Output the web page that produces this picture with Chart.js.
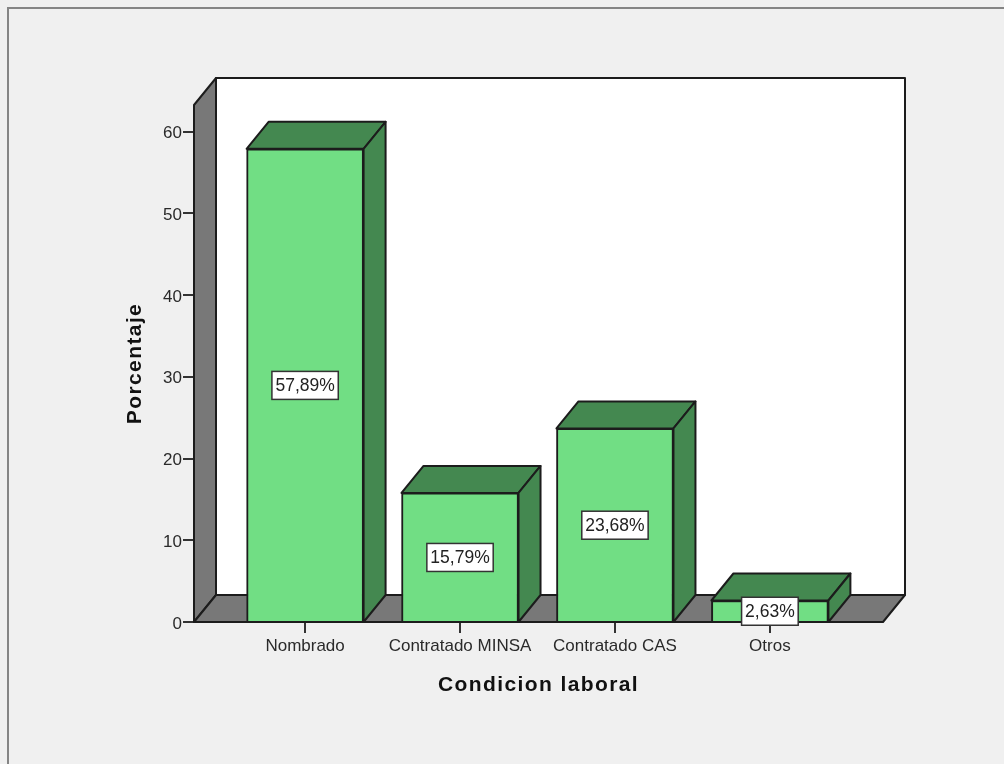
<!DOCTYPE html>
<html>
<head>
<meta charset="utf-8">
<style>
  html, body { margin: 0; padding: 0; background: #f0f0f0; }
  #wrap { width: 1004px; height: 764px; }
</style>
<script src="https://cdn.jsdelivr.net/npm/chart.js@4"></script>
</head>
<body>
<div id="wrap"><canvas id="myChart" width="1004" height="764"></canvas></div>
<script>
const categories = ['Nombrado', 'Contratado MINSA', 'Contratado CAS', 'Otros'];
const porcentajes = [57.89, 15.79, 23.68, 2.63];
const yTicks = [0, 10, 20, 30, 40, 50, 60];

const GREEN = '#71de84';
const DARK_GREEN = '#448850';
const WALL = '#787878';
const LINE = '#1c1c1c';
const DX = 22, DY = 27;

function poly(ctx, pts, fill) {
  ctx.beginPath();
  ctx.moveTo(pts[0][0], pts[0][1]);
  for (let i = 1; i < pts.length; i++) ctx.lineTo(pts[i][0], pts[i][1]);
  ctx.closePath();
  ctx.fillStyle = fill;
  ctx.fill();
  ctx.lineWidth = 2;
  ctx.strokeStyle = LINE;
  ctx.lineJoin = 'round';
  ctx.stroke();
}

// axis titles in the original are letter spaced, the scale has no option for it
function spacedTitle(scale) {
  if (scale.spaced) return;
  scale.spaced = true;
  const drawTitle = scale.drawTitle;
  scale.drawTitle = function () {
    scale.ctx.letterSpacing = '1.4px';
    drawTitle.call(scale);
    scale.ctx.letterSpacing = '0px';
  };
}

// frame, back wall, floor and side wall, then the depth of each bar
const box3d = {
  id: 'box3d',
  beforeDraw(chart) {
    const ctx = chart.ctx;
    ctx.save();
    ctx.strokeStyle = '#858585';
    ctx.lineWidth = 2;
    ctx.beginPath();
    ctx.moveTo(8, 764);
    ctx.lineTo(8, 8);
    ctx.lineTo(1004, 8);
    ctx.stroke();
    ctx.restore();
  },
  beforeDatasetsDraw(chart) {
    const ctx = chart.ctx;
    const a = chart.chartArea;
    ctx.save();
    poly(ctx, [[a.left + DX, a.top - DY], [a.right + DX, a.top - DY], [a.right + DX, a.bottom - DY], [a.left + DX, a.bottom - DY]], '#ffffff');
    poly(ctx, [[a.left, a.top], [a.left + DX, a.top - DY], [a.left + DX, a.bottom - DY], [a.left, a.bottom]], WALL);
    poly(ctx, [[a.left, a.bottom], [a.left + DX, a.bottom - DY], [a.right + DX, a.bottom - DY], [a.right, a.bottom]], WALL);
    chart.getDatasetMeta(0).data.forEach(bar => {
      const l = bar.x - bar.width / 2, r = bar.x + bar.width / 2;
      poly(ctx, [[l, bar.y], [l + DX, bar.y - DY], [r + DX, bar.y - DY], [r, bar.y]], DARK_GREEN);
      poly(ctx, [[r, bar.y], [r + DX, bar.y - DY], [r + DX, a.bottom - DY], [r, a.bottom]], DARK_GREEN);
    });
    ctx.restore();
  },
  afterDatasetsDraw(chart) {
    const ctx = chart.ctx;
    ctx.save();
    ctx.font = '17.5px "Liberation Sans"';
    ctx.textAlign = 'center';
    ctx.textBaseline = 'middle';
    chart.getDatasetMeta(0).data.forEach((bar, i) => {
      const text = porcentajes[i].toFixed(2).replace('.', ',') + '%';
      const w = ctx.measureText(text).width + 7;
      const h = 28;
      const cy = (bar.y + bar.base) / 2 + 0.5;
      ctx.fillStyle = '#ffffff';
      ctx.fillRect(bar.x - w / 2, cy - h / 2, w, h);
      ctx.strokeStyle = '#333333';
      ctx.lineWidth = 1.5;
      ctx.strokeRect(bar.x - w / 2, cy - h / 2, w, h);
      ctx.fillStyle = '#222222';
      ctx.fillText(text, bar.x, cy + 1);
    });
    ctx.restore();
  }
};

var myChart = new Chart(document.getElementById('myChart'), {
  type: 'bar',
  data: {
    datasets: [{
      data: porcentajes.map((v, i) => ({ x: i, y: v })),
      backgroundColor: GREEN,
      borderColor: LINE,
      borderWidth: 2,
      barThickness: 117,
      clip: false
    }]
  },
  plugins: [box3d],
  options: {
    responsive: false,
    animation: false,
    layout: { padding: { left: 120, right: 121, top: 105, bottom: 64 } },
    plugins: { legend: { display: false }, tooltip: { enabled: false } },
    scales: {
      x: {
        type: 'linear',
        offset: false,
        min: -0.717,
        max: 3.73,
        afterBuildTicks: scale => { scale.ticks = categories.map((c, i) => ({ value: i })); },
        afterFit: scale => { scale.height = 78; spacedTitle(scale); },
        ticks: {
          callback: v => categories[v],
          color: '#2a2a2a',
          font: { family: 'Liberation Sans', size: 17 },
          padding: 3,
          maxRotation: 0,
          autoSkip: false
        },
        grid: { offset: false, drawOnChartArea: false, drawTicks: true, tickLength: 11, color: '#333333', lineWidth: 2 },
        border: { display: false },
        title: {
          display: true,
          text: 'Condicion laboral',
          color: '#111111',
          font: { family: 'Liberation Sans', size: 21, weight: 'bold' },
          padding: { top: 0, bottom: 2 }
        }
      },
      y: {
        min: 0,
        max: 63.25,
        afterBuildTicks: scale => { scale.ticks = yTicks.map(v => ({ value: v })); },
        afterFit: scale => { scale.width = 74; spacedTitle(scale); },
        ticks: {
          color: '#2a2a2a',
          font: { family: 'Liberation Sans', size: 17 },
          padding: 1,
          labelOffset: 2
        },
        grid: { drawOnChartArea: false, drawTicks: true, tickLength: 11, color: '#333333', lineWidth: 2 },
        border: { display: false },
        title: {
          display: true,
          text: 'Porcentaje',
          color: '#111111',
          font: { family: 'Liberation Sans', size: 21, weight: 'bold' },
          padding: { top: 3, bottom: 0 }
        }
      }
    }
  }
});
</script>
</body>
</html>
